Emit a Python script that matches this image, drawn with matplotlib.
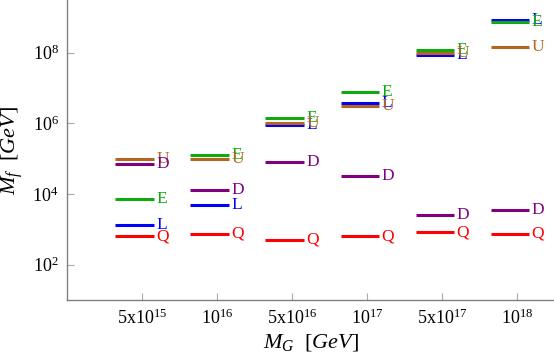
import numpy as np
import matplotlib
matplotlib.use('Agg')
import matplotlib.pyplot as plt

plt.rcParams['font.family'] = 'Liberation Serif'
plt.rcParams['mathtext.fontset'] = 'custom'
plt.rcParams['mathtext.rm'] = 'Liberation Serif'
plt.rcParams['mathtext.it'] = 'Liberation Serif:italic'

# GUT scale M_G (categories) and intermediate masses M_f for each field
categories = ['5x10$^{15}$', '10$^{16}$', '5x10$^{16}$', '10$^{17}$', '5x10$^{17}$', '10$^{18}$']
Q = [630, 740, 500, 630, 830, 740]
L = [1300, 4900, 9.1e5, 3.7e6, 8.7e7, 8.5e8]
E = [7400, 1.3e5, 1.4e6, 7.9e6, 1.2e8, 7.6e8]
U = [1.0e5, 1.0e5, 1.0e6, 3.1e6, 1.0e8, 1.4e8]
D = [7.2e4, 1.26e4, 8.1e4, 3.2e4, 2.5e3, 3.6e3]

series = [('Q', Q, '#ff0000'), ('L', L, '#0000ff'), ('E', E, '#10aa10'),
          ('U', U, '#b5651d'), ('D', D, '#800080')]

fig = plt.figure(figsize=(5.54, 3.61), dpi=100)
ax = fig.add_axes([67/554, 61/361, 487/554, 300/361])

x = np.arange(1, len(categories) + 1)
for name, vals, col in series:
    ax.hlines(vals, x - 0.355, x + 0.16, colors=col, lw=2.2)
    for xi, v in zip(x, vals):
        ax.text(xi + 0.19, v, name, color=col, fontsize=12.5, va='center', ha='left')

ax.set_yscale('log')
ax.set_ylim(10**1.0, 10**9.49)
ax.set_xlim(0, 6.49)
ax.set_xticks(x)
ax.set_xticklabels(categories)
ax.set_yticks([1e2, 1e4, 1e6, 1e8])
ax.set_yticklabels(['10$^{2}$', '10$^{4}$', '10$^{6}$', '10$^{8}$'])
ax.yaxis.set_minor_locator(matplotlib.ticker.NullLocator())

for s in ['top', 'right']:
    ax.spines[s].set_visible(False)
for s in ['left', 'bottom']:
    ax.spines[s].set_color('#808080')
    ax.spines[s].set_linewidth(1.0)
ax.tick_params(direction='in', length=5, color='#aaaaaa', labelsize=13, pad=6)

ax.set_xlabel(r'$M_G\ \ [GeV]$', fontsize=16, labelpad=3)
ax.set_ylabel(r'$M_f\ \ [GeV]$', fontsize=16, labelpad=5)

fig.savefig('out.png', dpi=100)
